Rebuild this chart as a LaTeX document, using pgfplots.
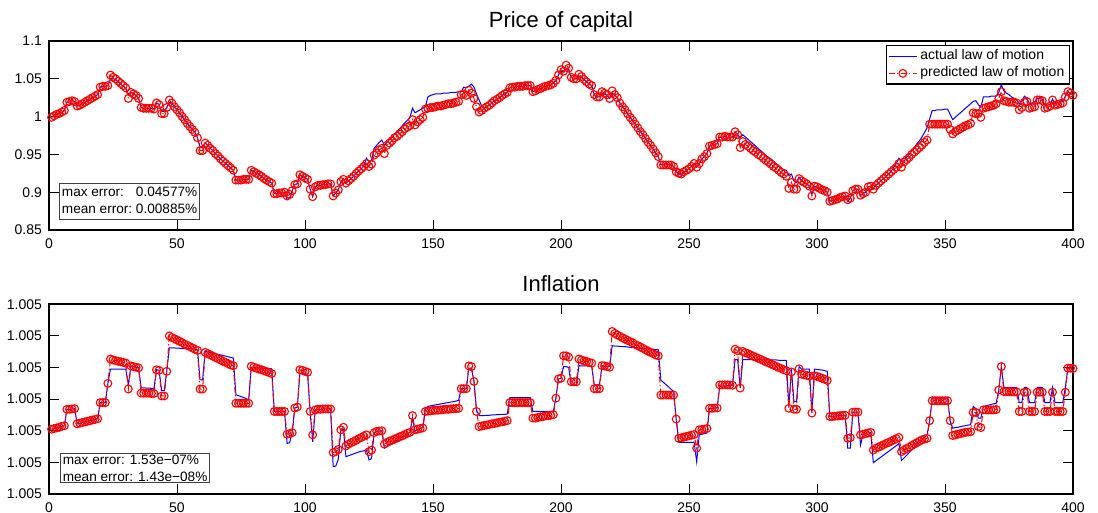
\documentclass[border=0pt]{standalone}
\usepackage{fontspec}
\setmainfont{Liberation Sans}
\usepackage{pgfplots}
\usepackage{pgfplotstable}
\pgfplotsset{compat=1.18}

% Price of capital: time, actual law of motion, predicted law of motion
\pgfplotstableread[row sep=\\]{
x act pred\\
1 0.999 0.999\\2 1.001 1.001\\3 1.003 1.003\\4 1.004 1.004\\5 1.006 1.006\\6 1.008 1.008\\7 1.019 1.019\\8 1.020 1.020\\
9 1.021 1.021\\10 1.020 1.020\\11 1.014 1.014\\12 1.015 1.015\\13 1.017 1.017\\14 1.019 1.019\\15 1.021 1.021\\16 1.023 1.023\\
17 1.025 1.025\\18 1.027 1.027\\19 1.029 1.029\\20 1.039 1.039\\21 1.040 1.040\\22 1.040 1.040\\23 1.041 1.041\\24 1.049 1.055\\
25 1.050 1.052\\26 1.049 1.050\\27 1.046 1.047\\28 1.043 1.044\\29 1.040 1.041\\30 1.037 1.038\\31 1.030 1.024\\32 1.032 1.032\\
33 1.030 1.030\\34 1.028 1.028\\35 1.024 1.024\\36 1.012 1.012\\37 1.011 1.011\\38 1.011 1.011\\39 1.011 1.011\\40 1.011 1.011\\
41 1.010 1.010\\42 1.018 1.018\\43 1.016 1.016\\44 1.007 1.004\\45 1.007 1.004\\46 1.012 1.012\\47 1.019 1.022\\48 1.018 1.018\\
49 1.013 1.013\\50 1.009 1.009\\51 1.005 1.005\\52 1.000 1.000\\53 0.996 0.996\\54 0.991 0.991\\55 0.987 0.987\\56 0.983 0.983\\
57 0.979 0.979\\58 0.972 0.972\\59 0.960 0.955\\60 0.960 0.955\\61 0.965 0.965\\62 0.962 0.962\\63 0.958 0.958\\64 0.955 0.955\\
65 0.951 0.951\\66 0.948 0.948\\67 0.944 0.944\\68 0.941 0.941\\69 0.938 0.938\\70 0.935 0.935\\71 0.932 0.932\\72 0.929 0.929\\
73 0.916 0.916\\74 0.916 0.916\\75 0.916 0.916\\76 0.917 0.917\\77 0.917 0.917\\78 0.917 0.917\\79 0.929 0.929\\80 0.927 0.927\\
81 0.925 0.925\\82 0.923 0.923\\83 0.921 0.921\\84 0.918 0.918\\85 0.916 0.916\\86 0.914 0.914\\87 0.912 0.912\\88 0.898 0.898\\
89 0.898 0.898\\90 0.899 0.899\\91 0.899 0.899\\92 0.900 0.900\\93 0.890 0.895\\94 0.892 0.897\\95 0.902 0.902\\96 0.910 0.910\\
97 0.911 0.911\\98 0.923 0.923\\99 0.921 0.921\\100 0.919 0.919\\101 0.917 0.917\\102 0.904 0.904\\103 0.894 0.894\\104 0.907 0.907\\
105 0.909 0.909\\106 0.909 0.909\\107 0.910 0.910\\108 0.910 0.910\\109 0.911 0.911\\110 0.911 0.911\\111 0.895 0.895\\112 0.899 0.899\\
113 0.903 0.903\\114 0.914 0.914\\115 0.917 0.917\\116 0.912 0.912\\117 0.915 0.915\\118 0.918 0.918\\119 0.921 0.921\\120 0.925 0.925\\
121 0.928 0.928\\122 0.931 0.931\\123 0.935 0.934\\124 0.945 0.938\\125 0.940 0.934\\126 0.942 0.937\\127 0.958 0.949\\128 0.962 0.952\\
129 0.966 0.956\\130 0.969 0.958\\131 0.962 0.951\\132 0.966 0.962\\133 0.970 0.965\\134 0.973 0.968\\135 0.977 0.972\\136 0.981 0.974\\
137 0.984 0.977\\138 0.988 0.980\\139 0.992 0.984\\140 0.995 0.986\\141 0.999 0.988\\142 1.011 0.996\\143 1.005 0.989\\144 1.007 0.993\\
145 1.009 0.996\\146 1.011 0.999\\147 1.013 1.010\\148 1.026 1.011\\149 1.028 1.012\\150 1.029 1.012\\151 1.030 1.013\\152 1.030 1.014\\
153 1.030 1.014\\154 1.031 1.015\\155 1.031 1.016\\156 1.031 1.017\\157 1.032 1.017\\158 1.032 1.018\\159 1.032 1.019\\160 1.033 1.020\\
161 1.033 1.029\\162 1.039 1.030\\163 1.038 1.028\\164 1.040 1.035\\165 1.043 1.031\\166 1.039 1.024\\167 1.030 1.013\\168 1.022 1.006\\
169 1.014 1.008\\170 1.011 1.011\\171 1.013 1.013\\172 1.015 1.015\\173 1.018 1.018\\174 1.021 1.021\\175 1.023 1.023\\176 1.025 1.025\\
177 1.028 1.028\\178 1.030 1.030\\179 1.032 1.032\\180 1.038 1.038\\181 1.039 1.039\\182 1.039 1.039\\183 1.040 1.040\\184 1.040 1.040\\
185 1.040 1.040\\186 1.041 1.041\\187 1.041 1.041\\188 1.041 1.041\\189 1.033 1.033\\190 1.034 1.034\\191 1.036 1.036\\192 1.037 1.037\\
193 1.039 1.039\\194 1.040 1.040\\195 1.041 1.041\\196 1.042 1.042\\197 1.044 1.044\\198 1.048 1.048\\199 1.055 1.055\\200 1.060 1.062\\
201 1.059 1.060\\202 1.064 1.068\\203 1.062 1.064\\204 1.052 1.052\\205 1.050 1.050\\206 1.050 1.050\\207 1.053 1.056\\208 1.052 1.053\\
209 1.049 1.049\\210 1.046 1.046\\211 1.043 1.043\\212 1.041 1.041\\213 1.029 1.029\\214 1.026 1.026\\215 1.026 1.026\\216 1.031 1.033\\
217 1.030 1.031\\218 1.028 1.029\\219 1.024 1.024\\220 1.031 1.034\\221 1.028 1.029\\222 1.025 1.025\\223 1.018 1.018\\224 1.013 1.013\\
225 1.009 1.009\\226 1.004 1.004\\227 0.999 0.999\\228 0.995 0.995\\229 0.990 0.990\\230 0.985 0.985\\231 0.980 0.980\\232 0.976 0.976\\
233 0.971 0.971\\234 0.966 0.966\\235 0.962 0.962\\236 0.957 0.957\\237 0.952 0.952\\238 0.947 0.947\\239 0.937 0.936\\240 0.936 0.936\\
241 0.936 0.936\\242 0.936 0.936\\243 0.936 0.936\\244 0.934 0.934\\245 0.927 0.927\\246 0.925 0.925\\247 0.922 0.924\\248 0.926 0.927\\
249 0.929 0.929\\250 0.931 0.931\\251 0.934 0.934\\252 0.938 0.938\\253 0.933 0.933\\254 0.938 0.938\\255 0.944 0.944\\256 0.947 0.947\\
257 0.951 0.951\\258 0.961 0.961\\259 0.962 0.962\\260 0.963 0.963\\261 0.964 0.964\\262 0.973 0.973\\263 0.973 0.973\\264 0.974 0.974\\
265 0.973 0.973\\266 0.973 0.973\\267 0.973 0.973\\268 0.980 0.980\\269 0.976 0.976\\270 0.972 0.959\\271 0.976 0.967\\272 0.973 0.963\\
273 0.970 0.961\\274 0.967 0.958\\275 0.964 0.955\\276 0.961 0.953\\277 0.958 0.950\\278 0.955 0.948\\279 0.952 0.945\\280 0.949 0.942\\
281 0.946 0.940\\282 0.944 0.937\\283 0.941 0.934\\284 0.938 0.932\\285 0.935 0.929\\286 0.932 0.926\\287 0.930 0.924\\288 0.929 0.921\\
289 0.922 0.905\\290 0.924 0.913\\291 0.915 0.904\\292 0.913 0.904\\293 0.920 0.918\\294 0.915 0.915\\295 0.913 0.913\\296 0.911 0.911\\
297 0.908 0.908\\298 0.897 0.895\\299 0.908 0.908\\300 0.907 0.907\\301 0.905 0.905\\302 0.903 0.903\\303 0.902 0.902\\304 0.900 0.900\\
305 0.888 0.888\\306 0.889 0.889\\307 0.890 0.890\\308 0.891 0.891\\309 0.893 0.893\\310 0.894 0.894\\311 0.895 0.895\\312 0.888 0.890\\
313 0.892 0.892\\314 0.902 0.902\\315 0.904 0.904\\316 0.904 0.904\\317 0.896 0.896\\318 0.898 0.898\\319 0.900 0.900\\320 0.907 0.907\\
321 0.908 0.908\\322 0.904 0.904\\323 0.909 0.909\\324 0.912 0.912\\325 0.915 0.915\\326 0.918 0.918\\327 0.921 0.921\\328 0.924 0.924\\
329 0.928 0.927\\330 0.933 0.930\\331 0.938 0.933\\332 0.945 0.938\\333 0.941 0.933\\334 0.941 0.940\\335 0.946 0.943\\336 0.950 0.946\\
337 0.955 0.950\\338 0.959 0.953\\339 0.964 0.956\\340 0.968 0.959\\341 0.973 0.962\\342 0.979 0.966\\343 0.985 0.969\\344 0.997 0.990\\
345 1.008 0.990\\346 1.008 0.990\\347 1.009 0.990\\348 1.009 0.990\\349 1.009 0.990\\350 1.010 0.990\\351 1.010 0.990\\352 1.003 0.983\\
353 0.996 0.977\\354 0.999 0.980\\355 1.002 0.982\\356 1.005 0.984\\357 1.008 0.986\\358 1.011 0.988\\359 1.014 0.989\\360 1.017 0.991\\
361 1.020 1.005\\362 1.021 1.004\\363 1.016 1.004\\364 1.012 0.999\\365 1.026 1.011\\366 1.026 1.012\\367 1.026 1.013\\368 1.027 1.014\\
369 1.027 1.015\\370 1.027 1.017\\371 1.032 1.024\\372 1.042 1.033\\373 1.034 1.021\\374 1.031 1.020\\375 1.029 1.019\\376 1.026 1.019\\
377 1.024 1.019\\378 1.022 1.018\\379 1.017 1.009\\380 1.020 1.012\\381 1.027 1.019\\382 1.024 1.020\\383 1.017 1.011\\384 1.018 1.012\\
385 1.019 1.013\\386 1.024 1.022\\387 1.024 1.022\\388 1.023 1.021\\389 1.014 1.011\\390 1.015 1.012\\391 1.016 1.014\\392 1.023 1.022\\
393 1.017 1.015\\394 1.018 1.016\\395 1.019 1.017\\396 1.020 1.018\\397 1.027 1.026\\398 1.033 1.033\\399 1.031 1.031\\400 1.028 1.028\\
}\capital

% Inflation, in tick units above the lowest tick (every tick reads 1.005)
\pgfplotstableread[row sep=\\]{
x act pred\\
1 2.05 2.05\\2 2.07 2.07\\3 2.09 2.09\\4 2.11 2.11\\5 2.14 2.14\\6 2.16 2.16\\7 2.68 2.68\\8 2.68 2.68\\
9 2.69 2.69\\10 2.70 2.70\\11 2.22 2.22\\12 2.24 2.24\\13 2.26 2.26\\14 2.28 2.28\\15 2.30 2.30\\16 2.32 2.32\\
17 2.34 2.34\\18 2.36 2.36\\19 2.38 2.38\\20 2.89 2.89\\21 2.89 2.89\\22 2.89 2.89\\23 3.50 3.50\\24 3.95 4.27\\
25 3.95 4.24\\26 3.95 4.22\\27 3.95 4.20\\28 3.95 4.18\\29 3.95 4.16\\30 3.95 4.14\\31 3.45 3.32\\32 4.05 4.05\\
33 4.03 4.03\\34 4.01 4.01\\35 3.99 3.99\\36 3.36 3.19\\37 3.36 3.19\\38 3.35 3.19\\39 3.35 3.19\\40 3.34 3.18\\
41 3.34 3.18\\42 3.93 3.93\\43 3.91 3.91\\44 3.27 3.10\\45 3.27 3.10\\46 3.88 3.88\\47 4.62 5.00\\48 4.62 4.95\\
49 4.62 4.91\\50 4.61 4.87\\51 4.61 4.83\\52 4.60 4.79\\53 4.60 4.74\\54 4.60 4.70\\55 4.59 4.66\\56 4.59 4.62\\
57 4.58 4.58\\58 4.56 4.54\\59 3.61 3.32\\60 3.61 3.32\\61 4.51 4.48\\62 4.49 4.44\\63 4.47 4.40\\64 4.45 4.36\\
65 4.43 4.32\\66 4.42 4.28\\67 4.40 4.24\\68 4.38 4.20\\69 4.36 4.16\\70 4.34 4.12\\71 4.32 4.08\\72 4.30 4.06\\
73 3.14 2.87\\74 3.11 2.87\\75 3.08 2.87\\76 3.05 2.87\\77 3.02 2.87\\78 2.98 2.87\\79 4.00 4.04\\80 4.00 4.01\\
81 3.99 3.98\\82 3.99 3.95\\83 3.98 3.93\\84 3.98 3.90\\85 3.97 3.87\\86 3.97 3.84\\87 3.96 3.81\\88 2.61 2.61\\
89 2.61 2.61\\90 2.61 2.61\\91 2.61 2.61\\92 2.61 2.61\\93 1.60 1.89\\94 1.62 1.91\\95 1.94 1.94\\96 2.72 2.72\\
97 2.75 2.75\\98 3.82 3.93\\99 3.81 3.91\\100 3.80 3.88\\101 3.80 3.85\\102 2.61 2.61\\103 1.65 1.87\\104 2.66 2.66\\
105 2.68 2.68\\106 2.68 2.68\\107 2.69 2.69\\108 2.69 2.69\\109 2.69 2.69\\110 2.69 2.69\\111 0.87 1.31\\112 0.88 1.34\\
113 1.10 1.41\\114 2.03 2.03\\115 2.05 2.11\\116 1.18 1.52\\117 1.21 1.58\\118 1.24 1.62\\119 1.27 1.66\\120 1.30 1.70\\
121 1.33 1.75\\122 1.35 1.79\\123 1.37 1.83\\124 1.39 1.87\\125 1.08 1.34\\126 1.12 1.39\\127 1.94 1.94\\128 1.98 1.98\\
129 1.99 1.99\\130 2.00 2.00\\131 1.45 1.58\\132 1.50 1.63\\133 1.55 1.67\\134 1.60 1.70\\135 1.65 1.74\\136 1.70 1.77\\
137 1.75 1.81\\138 1.80 1.84\\139 1.85 1.88\\140 1.90 1.92\\141 1.95 1.95\\142 2.40 2.48\\143 1.98 2.03\\144 2.05 2.05\\
145 2.07 2.07\\146 2.09 2.09\\147 2.70 2.61\\148 2.77 2.62\\149 2.79 2.63\\150 2.80 2.64\\151 2.82 2.65\\152 2.83 2.65\\
153 2.85 2.66\\154 2.86 2.67\\155 2.88 2.68\\156 2.89 2.68\\157 2.91 2.69\\158 2.92 2.70\\159 2.94 2.70\\160 2.96 2.71\\
161 3.33 3.33\\162 3.33 3.33\\163 3.33 3.33\\164 3.98 4.05\\165 3.98 4.03\\166 3.56 3.56\\167 2.65 2.61\\168 2.48 2.13\\
169 2.48 2.15\\170 2.48 2.17\\171 2.49 2.18\\172 2.49 2.20\\173 2.50 2.22\\174 2.50 2.23\\175 2.51 2.25\\176 2.51 2.27\\
177 2.52 2.28\\178 2.52 2.30\\179 2.53 2.32\\180 3.05 2.89\\181 3.05 2.89\\182 3.05 2.89\\183 3.05 2.89\\184 3.05 2.89\\
185 3.05 2.89\\186 3.05 2.89\\187 3.05 2.89\\188 3.05 2.89\\189 2.61 2.40\\190 2.61 2.40\\191 2.61 2.42\\192 2.61 2.44\\
193 2.61 2.45\\194 2.61 2.47\\195 2.61 2.48\\196 2.61 2.49\\197 2.61 2.51\\198 3.03 3.03\\199 3.64 3.64\\200 3.66 3.66\\
201 4.03 4.37\\202 4.03 4.37\\203 4.00 4.33\\204 3.45 3.55\\205 3.45 3.55\\206 3.45 3.55\\207 4.06 4.27\\208 4.05 4.24\\
209 4.05 4.21\\210 4.05 4.19\\211 4.04 4.16\\212 4.04 4.14\\213 3.45 3.33\\214 3.45 3.33\\215 3.45 3.33\\216 4.03 4.06\\
217 4.03 4.05\\218 4.03 4.03\\219 4.03 4.01\\220 4.69 5.14\\221 4.68 5.08\\222 4.68 5.03\\223 4.67 4.99\\224 4.66 4.94\\
225 4.66 4.90\\226 4.65 4.86\\227 4.64 4.82\\228 4.63 4.78\\229 4.63 4.73\\230 4.62 4.69\\231 4.61 4.65\\232 4.60 4.61\\
233 4.60 4.56\\234 4.59 4.52\\235 4.58 4.48\\236 4.58 4.44\\237 4.57 4.40\\238 4.56 4.37\\239 3.60 3.13\\240 3.53 3.13\\
241 3.46 3.13\\242 3.39 3.13\\243 3.31 3.13\\244 3.24 3.13\\245 2.37 2.37\\246 1.63 1.76\\247 1.63 1.78\\248 1.63 1.80\\
249 1.63 1.82\\250 1.63 1.84\\251 1.63 1.86\\252 1.64 1.88\\253 1.02 1.45\\254 1.87 2.03\\255 1.89 2.04\\256 1.91 2.05\\
257 1.93 2.07\\258 2.71 2.71\\259 2.71 2.71\\260 2.72 2.72\\261 2.72 2.72\\262 3.40 3.45\\263 3.41 3.45\\264 3.42 3.45\\
265 3.43 3.45\\266 3.44 3.45\\267 3.44 3.44\\268 4.25 4.58\\269 4.25 4.53\\270 3.35 3.35\\271 4.25 4.51\\272 4.25 4.47\\
273 4.25 4.44\\274 4.25 4.40\\275 4.25 4.36\\276 4.25 4.33\\277 4.25 4.29\\278 4.25 4.26\\279 4.24 4.22\\280 4.24 4.18\\
281 4.24 4.15\\282 4.24 4.11\\283 4.24 4.08\\284 4.24 4.04\\285 4.23 4.00\\286 4.23 3.97\\287 4.23 3.93\\288 4.23 3.90\\
289 2.75 2.71\\290 3.95 3.86\\291 2.92 2.68\\292 2.92 2.68\\293 4.03 3.96\\294 3.95 3.79\\295 3.95 3.77\\296 3.95 3.75\\
297 3.95 3.73\\298 2.56 2.56\\299 3.95 3.74\\300 3.94 3.72\\301 3.93 3.69\\302 3.92 3.66\\303 3.90 3.63\\304 3.88 3.59\\
305 2.45 2.45\\306 2.45 2.45\\307 2.46 2.46\\308 2.47 2.47\\309 2.48 2.48\\310 2.48 2.48\\311 2.49 2.49\\312 1.45 1.76\\
313 1.45 1.78\\314 2.59 2.59\\315 2.59 2.59\\316 2.59 2.59\\317 1.55 1.87\\318 1.89 1.89\\319 1.91 1.91\\320 1.93 1.93\\
321 1.95 1.95\\322 0.99 1.39\\323 1.05 1.45\\324 1.11 1.48\\325 1.17 1.52\\326 1.23 1.56\\327 1.29 1.60\\328 1.35 1.63\\
329 1.41 1.67\\330 1.47 1.71\\331 1.53 1.75\\332 1.60 1.79\\333 1.06 1.34\\334 1.14 1.39\\335 1.22 1.44\\336 1.31 1.48\\
337 1.39 1.53\\338 1.47 1.58\\339 1.55 1.62\\340 1.63 1.67\\341 1.71 1.71\\342 1.79 1.74\\343 1.87 1.76\\344 2.32 2.32\\
345 3.03 2.95\\346 3.03 2.95\\347 3.03 2.95\\348 3.03 2.95\\349 3.03 2.95\\350 3.03 2.95\\351 3.03 2.95\\352 2.32 2.32\\
353 2.08 1.85\\354 2.10 1.87\\355 2.11 1.89\\356 2.13 1.91\\357 2.15 1.93\\358 2.16 1.95\\359 2.18 1.96\\360 2.19 1.97\\
361 2.77 2.58\\362 2.70 2.58\\363 2.40 2.13\\364 2.40 2.10\\365 2.77 2.66\\366 2.79 2.66\\367 2.81 2.66\\368 2.83 2.66\\
369 2.85 2.66\\370 2.87 2.67\\371 3.29 3.29\\372 4.03 4.03\\373 3.37 3.24\\374 3.37 3.24\\375 3.37 3.24\\376 3.37 3.23\\
377 3.37 3.23\\378 3.37 3.23\\379 2.89 2.61\\380 2.89 2.61\\381 3.37 3.22\\382 3.37 3.22\\383 2.89 2.61\\384 2.89 2.61\\
385 2.89 2.61\\386 3.37 3.22\\387 3.37 3.22\\388 3.37 3.22\\389 2.89 2.61\\390 2.89 2.61\\391 2.89 2.61\\392 3.37 3.22\\
393 2.89 2.61\\394 2.89 2.61\\395 2.89 2.61\\396 2.89 2.61\\397 3.37 3.22\\398 3.98 3.98\\399 3.98 3.98\\400 3.97 3.97\\
}\inflation

\pgfplotsset{
  matlabaxis/.style={
    scale only axis, width=512pt, anchor=south west,
    xmin=0, xmax=400, xtick={0,50,...,400},
    xticklabels={0,50,100,150,200,250,300,350,400},
    tick align=inside, tick pos=both,
    xticklabel pos=lower, yticklabel pos=left,
    major tick length=5pt,
    every tick/.style={black, line width=0.5pt},
    axis line style={black, line width=0.8pt},
    tick label style={font=\fontsize{7}{8}\selectfont},
    xticklabel style={yshift=-0.6pt},
    title style={font=\fontsize{11}{13}\selectfont, text depth=2.5pt, yshift=-5.5pt},
    clip=false,
  },
  actual/.style={blue, line width=0.5pt},
  predicted/.style={red, line width=0.5pt,
    dash pattern=on 3pt off 1.2pt on 0.6pt off 1.2pt,
    mark=o, mark size=1.95pt, mark options={solid, line width=0.55pt}},
}
\tikzset{
  infobox/.style={draw=black!75, line width=0.5pt, fill=white, anchor=south west,
    inner xsep=1.2pt, inner ysep=0.6pt, font=\fontsize{6.8}{8.3}\selectfont, align=left},
}

\begin{document}
\begin{tikzpicture}
\useasboundingbox (0,0) rectangle (549pt,256.5pt);

\begin{axis}[matlabaxis, at={(24.5pt,141.5pt)}, height=94.5pt,
  ymin=0.85, ymax=1.1,
  ytick={0.85,0.9,0.95,1,1.05,1.1},
  yticklabels={0.85,0.9,0.95,1,1.05,1.1},
  title={Price of capital},
  legend style={at={(0.997,0.979)}, anchor=north east, draw=black, line width=0.6pt,
    inner sep=1pt, font=\fontsize{7}{8.3}\selectfont, cells={anchor=west},
    nodes={inner xsep=1.5pt, inner ysep=0.9pt, text height=5.2pt, text depth=1.6pt}},
  legend image code/.code={\draw[mark repeat=2, mark phase=2, #1]
    plot coordinates {(0pt,0pt) (7pt,0pt) (14pt,0pt)};},
]
\addplot[actual] table[x=x, y=act] {\capital};
\addlegendentry{actual law of motion}
\addplot[predicted] table[x=x, y=pred] {\capital};
\addlegendentry{predicted law of motion}
\node[infobox] at (rel axis cs:0.0098,0.053)
  {\begin{tabular}{@{}l@{\ }l@{}}max error: & 0.04577\%\\mean error: & 0.00885\%\end{tabular}};
\end{axis}

\begin{axis}[matlabaxis, at={(24.5pt,9.5pt)}, height=94.85pt,
  ymin=0, ymax=6, ytick={0,1,2,3,4,5,6},
  yticklabels={1.005,1.005,1.005,1.005,1.005,1.005,1.005},
  title={Inflation},
]
\addplot[actual] table[x=x, y=act] {\inflation};
\addplot[predicted] table[x=x, y=pred] {\inflation};
\node[infobox] at (rel axis cs:0.0107,0.058)
  {max error: 1.53e−07\%\\mean error: 1.43e−08\%};
\end{axis}
\end{tikzpicture}
\end{document}
